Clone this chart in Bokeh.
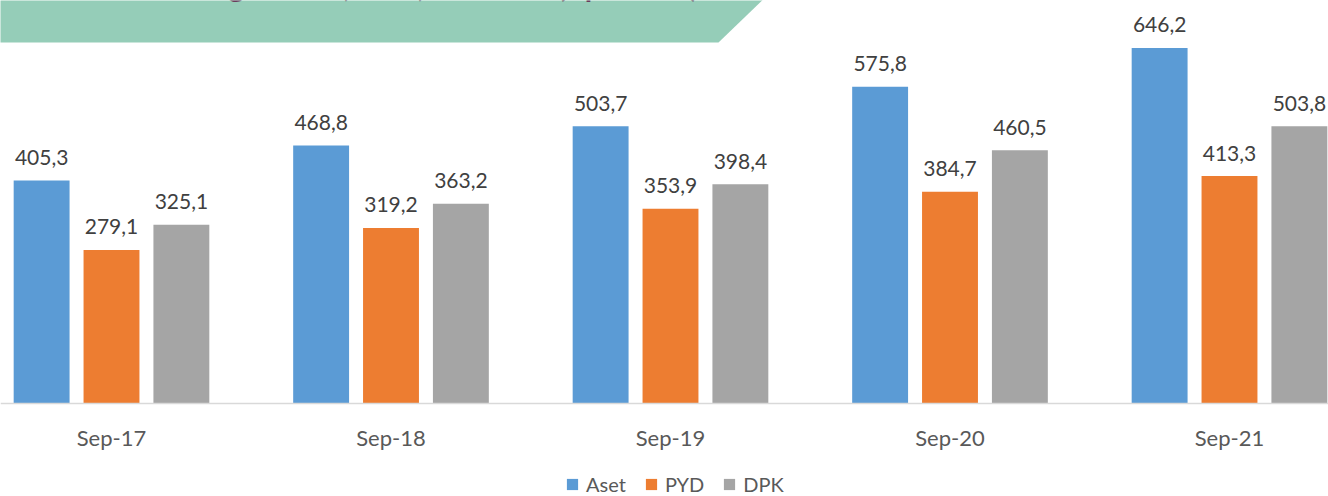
from bokeh.plotting import figure
from bokeh.models import ColumnDataSource, Range1d, Legend, LegendItem, Span
from bokeh.transform import dodge
from bokeh.core.properties import value
from bokeh.embed import file_html
from bokeh.resources import INLINE

# ---- data ----
categories = ["Sep-17", "Sep-18", "Sep-19", "Sep-20", "Sep-21"]
aset = [405.3, 468.8, 503.7, 575.8, 646.2]
pyd = [279.1, 319.2, 353.9, 384.7, 413.3]
dpk = [325.1, 363.2, 398.4, 460.5, 503.8]
series_names = ["Aset", "PYD", "DPK"]
title_text = "Perkembangan Aset, PYD, dan DPK (Rp Triliun)"

colors = ["#5B9BD5", "#ED7D31", "#A5A5A5"]
FONT = "Lato"

def fmt(v):
    return f"{v:.1f}".replace(".", ",")

xs = list(range(len(categories)))
src = ColumnDataSource(dict(
    x=xs,
    zero=[0] * len(xs),
    cat=categories,
    aset=aset, pyd=pyd, dpk=dpk,
    aset_l=[fmt(v) for v in aset],
    pyd_l=[fmt(v) for v in pyd],
    dpk_l=[fmt(v) for v in dpk],
))

W, H = 1328, 496
# reference geometry: category spacing ~279.5 px, first category at 111 px,
# zero line at 403 px, 0.5502 px per unit
CAT_PX, CAT0_PX, ZERO_PX, PX_PER_UNIT = 279.5, 111.0, 403.0, 0.5502
x_range = Range1d((0 - CAT0_PX) / CAT_PX, (W - CAT0_PX) / CAT_PX)
y_range = Range1d(-(H - ZERO_PX) / PX_PER_UNIT, ZERO_PX / PX_PER_UNIT)

p = figure(width=W, height=H, x_range=x_range, y_range=y_range,
           output_backend="svg", toolbar_location=None,
           min_border=0, x_axis_type=None, y_axis_type=None)
p.outline_line_color = None
p.background_fill_color = "white"
p.border_fill_color = "white"
p.xgrid.visible = False
p.ygrid.visible = False

def px2x(px):
    return (px - CAT0_PX) / CAT_PX

def py2y(py):
    return (ZERO_PX - py) / PX_PER_UNIT

# decorative banner (top-left), its title mostly cut off as in the reference
p.patch([px2x(-10), px2x(772), px2x(718), px2x(-10)],
        [py2y(-10), py2y(-10), py2y(42), py2y(42)],
        fill_color="#95CDB8", line_color=None)
p.text(x=[px2x(700)], y=[py2y(-16)], text=[title_text],
       text_align="right", text_baseline="alphabetic",
       text_font=value(FONT), text_font_style="bold",
       text_font_size="30px", text_color="#6A3B5C")

# category axis line and labels
p.add_layout(Span(location=0, dimension="width", line_color="#D9D9D9", line_width=1.5))
p.text(x="x", y="zero", text="cat", source=src,
       text_align="center", text_baseline="alphabetic", y_offset=34,
       text_font=value(FONT), text_font_size="22px", text_color="#595959")

offsets = [-0.25, 0.0, 0.25]
fields = ["aset", "pyd", "dpk"]
renderers = []
for f, off, c in zip(fields, offsets, colors):
    r = p.vbar(x=dodge("x", off), top=f, width=0.2, source=src,
               fill_color=c, line_color=None)
    renderers.append(r)
    p.text(x=dodge("x", off), y=f, text=f + "_l", source=src,
           text_align="center", text_baseline="alphabetic", y_offset=-23,
           text_font=value(FONT), text_font_size="21px", text_color="#404040")

legend = Legend(items=[LegendItem(label=n, renderers=[r]) for n, r in zip(series_names, renderers)],
                orientation="horizontal", location=(565, 0),
                glyph_width=14, glyph_height=14, label_standoff=7, spacing=18,
                padding=0, margin=0, border_line_color=None,
                background_fill_alpha=0,
                label_text_font=FONT, label_text_font_size="20px",
                label_text_color="#595959")
p.add_layout(legend)

open("out.html", "w").write(file_html(p, INLINE))
